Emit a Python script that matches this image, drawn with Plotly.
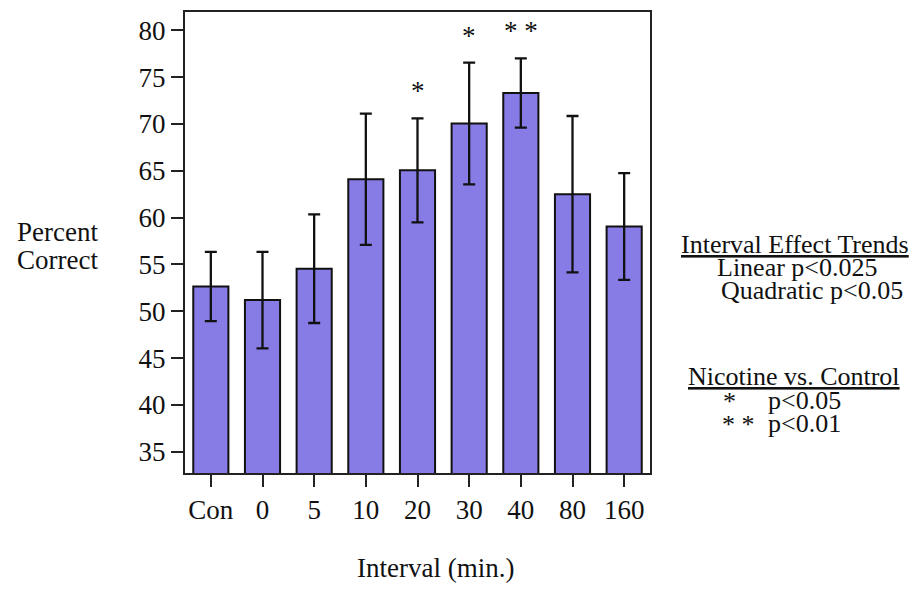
import plotly.graph_objects as go

categories = ["Con", "0", "5", "10", "20", "30", "40", "80", "160"]
percent_correct = [52.65, 51.2, 54.55, 64.1, 65.05, 70.05, 73.3, 62.5, 59.05]
error = [3.7, 5.15, 5.8, 7.0, 5.55, 6.5, 3.7, 8.35, 5.7]
significance = ["", "", "", "", "*", "*", "* *", "", ""]
y_ticks = [35, 40, 45, 50, 55, 60, 65, 70, 75, 80]

FONT = "Liberation Serif, Times New Roman, serif"
OFF = 8  # page body margin
W, H = 918 - OFF, 595 - 2 * OFF
L, T = 185 - OFF, 10 - OFF
R = W - (650 - OFF)
B = H - (473 - OFF)
pw, ph = W - L - R, H - T - B

def px(x):
    return (x - OFF - L) / pw

def py(y):
    return (H - B - (y - OFF)) / ph

TXT = dict(family=FONT, size=27, color="#111")
TXT2 = dict(family=FONT, size=26, color="#111")

fig = go.Figure()
fig.add_trace(go.Bar(
    x=categories, y=percent_correct,
    marker=dict(color="#877BE6", line=dict(color="#111111", width=2)),
    error_y=dict(type="data", array=error, visible=True, color="#111111",
                 thickness=2.3, width=6),
    width=0.68,
))

annotations = []
for i, (v, e, s) in enumerate(zip(percent_correct, error, significance)):
    if s:
        annotations.append(dict(x=i, y=v + e, xref="x", yref="y", text=s,
                                showarrow=False, yanchor="bottom", yshift=10,
                                xanchor="center", font=TXT))

def note(x, y, text, font=TXT2):
    return dict(x=px(x), y=py(y), xref="paper", yref="paper", text=text,
                showarrow=False, xanchor="center", yanchor="middle",
                align="center", font=font)

annotations += [
    note(57, 231, "Percent", TXT),
    note(57, 259, "Correct", TXT),
    note(435, 568, "Interval (min.)", TXT),
    note(795, 244, "<u>Interval Effect Trends</u>"),
    note(797, 267, "Linear p<0.025"),
    note(812, 290, "Quadratic p<0.05"),
    note(794, 376, "<u>Nicotine vs. Control</u>"),
    note(729, 401, "*"),
    note(804, 400, "p<0.05"),
    note(738, 424, "* *"),
    note(804, 423, "p<0.01"),
]

fig.update_layout(
    width=W, height=H,
    margin=dict(l=L, r=R, t=T, b=B),
    paper_bgcolor="white", plot_bgcolor="white",
    showlegend=False,
    font=TXT,
    xaxis=dict(range=[-0.5, 8.5], showline=True, linecolor="#222", linewidth=2,
               mirror=True, ticks="outside", ticklen=12, tickwidth=2,
               tickcolor="#222", showgrid=False, tickfont=TXT),
    yaxis=dict(range=[32.74, 81.95], tickvals=y_ticks, showline=True,
               linecolor="#222", linewidth=2, mirror=True, ticks="outside",
               ticklen=12, tickwidth=2, tickcolor="#222", showgrid=False,
               zeroline=False, tickfont=TXT),
    annotations=annotations,
)

fig.write_html("out.html")
